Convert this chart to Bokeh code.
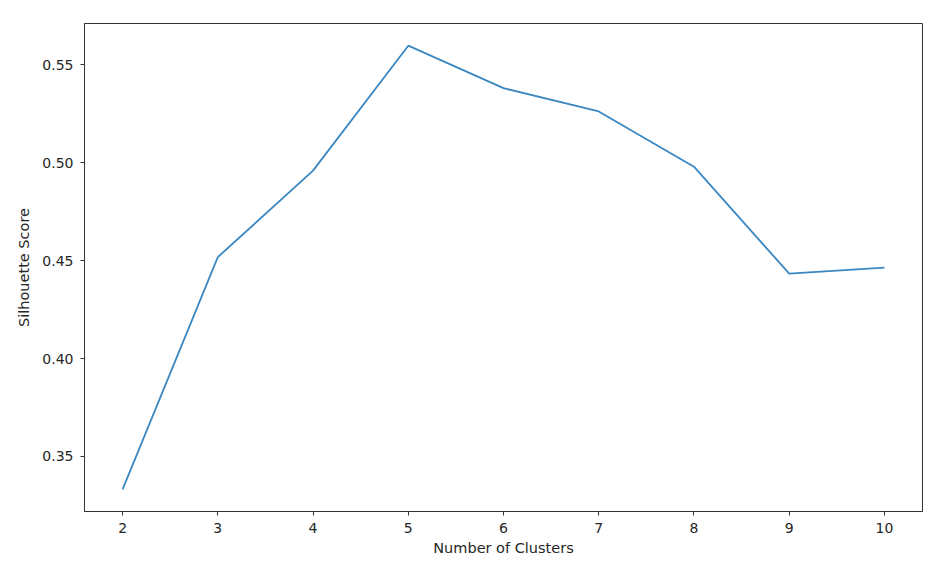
from bokeh.plotting import figure
from bokeh.models import Range1d, FixedTicker, PrintfTickFormatter
from bokeh.embed import file_html
from bokeh.resources import INLINE

clusters = [2, 3, 4, 5, 6, 7, 8, 9, 10]
silhouette = [0.3332, 0.4518, 0.4960, 0.5598, 0.5381, 0.5262, 0.4980, 0.4434, 0.4464]
x_ticks = [2, 3, 4, 5, 6, 7, 8, 9, 10]
y_ticks = [0.35, 0.40, 0.45, 0.50, 0.55]

pad_y = (max(silhouette) - min(silhouette)) * 0.05
p = figure(width=938, height=568, output_backend="svg", toolbar_location=None,
           x_range=Range1d(1.6, 10.4),
           y_range=Range1d(min(silhouette) - pad_y, max(silhouette) + pad_y),
           min_border_left=84, min_border_right=16, min_border_top=23, min_border_bottom=57)

p.line(clusters, silhouette, line_color="#3a87c2", line_width=1.8)

FONT = "DejaVu Sans"
TXT = "#262626"
for ax in (p.xaxis[0], p.yaxis[0]):
    ax.axis_line_color = "#333333"
    ax.major_tick_line_color = "#333333"
    ax.major_tick_out = 4
    ax.major_tick_in = 0
    ax.minor_tick_line_color = None
    ax.major_label_text_font = FONT
    ax.major_label_text_font_size = "14px"
    ax.major_label_text_color = TXT
    ax.axis_label_text_font = FONT
    ax.axis_label_text_font_size = "14.5px"
    ax.axis_label_text_font_style = "normal"
    ax.axis_label_text_color = TXT

p.xaxis.ticker = FixedTicker(ticks=x_ticks)
p.yaxis.ticker = FixedTicker(ticks=y_ticks)
p.yaxis.formatter = PrintfTickFormatter(format="%.2f")
p.xaxis.axis_label = "Number of Clusters"
p.yaxis.axis_label = "Silhouette Score"
p.xaxis.major_label_standoff = 7
p.xaxis.axis_label_standoff = 4
p.yaxis.major_label_standoff = 7
p.yaxis.axis_label_standoff = 7

p.xgrid.grid_line_color = None
p.ygrid.grid_line_color = None
p.outline_line_color = "#333333"
p.outline_line_alpha = 1.0
p.outline_line_width = 1

open("out.html", "w").write(file_html(p, INLINE))
